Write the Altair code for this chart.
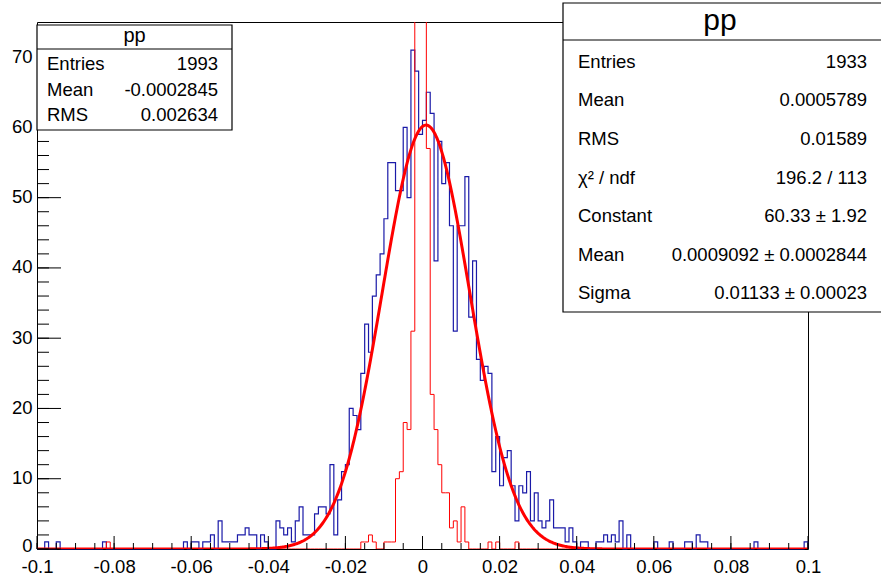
import altair as alt
import pandas as pd
import numpy as np

# ---------------- data ----------------
X_MIN, X_MAX, N_BINS = -0.1, 0.1, 200
Y_MAX = 75.0

blue_counts = [
    0, 0, 1, 0, 0, 1, 0, 0, 0, 0,
    0, 0, 0, 0, 0, 0, 0, 1, 0, 0,
    0, 0, 0, 0, 0, 0, 0, 0, 0, 0,
    0, 0, 0, 0, 0, 0, 0, 0, 1, 0,
    1, 1, 0, 1, 1, 2, 0, 4, 1, 1,
    1, 1, 2, 2, 3, 2, 2, 0, 2, 1,
    0, 0, 4, 3, 2, 3, 1, 4, 6, 2,
    2, 2, 5, 6, 6, 5, 12, 2, 7, 11,
    12, 20, 19, 17, 25, 32, 28, 36, 39, 42,
    47, 55, 55, 51, 51, 60, 50, 71, 68, 59,
    61, 65, 62, 41, 58, 52, 55, 46, 31, 46,
    46, 53, 33, 41, 27, 24, 26, 25, 11, 16,
    9, 13, 14, 9, 4, 9, 8, 11, 4, 8,
    4, 3, 4, 7, 3, 3, 3, 1, 3, 1,
    0, 1, 1, 0, 0, 1, 1, 2, 1, 2,
    1, 4, 0, 2, 0, 0, 0, 0, 0, 0,
    1, 0, 0, 0, 1, 0, 0, 0, 1, 1,
    0, 2, 1, 1, 0, 0, 0, 0, 0, 0,
    0, 0, 0, 0, 0, 0, 1, 0, 0, 0,
    0, 0, 0, 0, 0, 0, 0, 0, 0, 1,
]

red_counts = [
    0, 0, 0, 0, 0, 0, 0, 0, 0, 0,
    0, 0, 0, 0, 0, 0, 0, 0, 1, 0,
    0, 0, 0, 0, 0, 0, 0, 0, 0, 0,
    0, 0, 0, 0, 0, 0, 0, 0, 0, 0,
    0, 0, 0, 0, 0, 0, 0, 0, 0, 0,
    0, 0, 0, 0, 0, 0, 0, 0, 0, 0,
    0, 0, 0, 0, 0, 0, 0, 0, 0, 0,
    0, 0, 0, 0, 0, 0, 0, 0, 0, 0,
    0, 0, 0, 0, 1, 1, 2, 1, 0, 0,
    1, 1, 1, 10, 11, 18, 17, 31, 520, 690,
    545, 57, 22, 17, 12, 8, 8, 3, 4, 1,
    6, 1, 0, 0, 0, 0, 0, 1, 0, 1,
    0, 0, 0, 0, 1, 0, 0, 0, 0, 0,
    0, 0, 0, 0, 0, 0, 0, 0, 0, 0,
    0, 0, 0, 0, 0, 0, 0, 0, 0, 0,
    0, 0, 0, 0, 0, 0, 0, 0, 0, 0,
    0, 0, 0, 0, 0, 0, 0, 0, 0, 0,
    0, 0, 0, 0, 0, 0, 0, 0, 0, 0,
    0, 0, 0, 0, 0, 0, 0, 0, 0, 0,
    0, 0, 0, 0, 0, 0, 0, 0, 0, 0,
]

# Gaussian fit parameters (from the stats box)
fit_constant = 60.33
fit_mean = 0.0009092
fit_sigma = 0.01133

x_major_ticks = [-0.1, -0.08, -0.06, -0.04, -0.02, 0.0, 0.02, 0.04, 0.06, 0.08, 0.1]
x_minor_ticks = [round(-0.1 + 0.005 * k, 4) for k in range(41)]
y_major_ticks = [0, 10, 20, 30, 40, 50, 60, 70]
y_minor_ticks = list(range(0, 75, 2))

left_title = "pp"
left_labels = ["Entries", "Mean", "RMS"]
left_values = ["1993", "-0.0002845", "0.002634"]

right_title = "pp"
right_labels = ["Entries", "Mean", "RMS", "χ² / ndf", "Constant", "Mean", "Sigma"]
right_values = ["1933", "0.0005789", "0.01589", "196.2 / 113",
                "60.33 ± 1.92", "0.0009092 ± 0.0002844", "0.01133 ± 0.00023"]

# ---------------- layout ----------------
W, H = 771, 527
PAD = {"left": 37, "top": 22, "right": 73, "bottom": 28}
FONT = "Liberation Sans"
BLUE = "#1a1aa8"
RED = "#ff0000"

bw = (X_MAX - X_MIN) / N_BINS
def step_frame(counts):
    xs = [X_MIN + i * bw for i in range(N_BINS)] + [X_MAX, X_MAX]
    ys = list(counts) + [counts[-1], 0]
    return pd.DataFrame({"x": xs, "y": ys, "o": range(len(xs))})

blue_df = step_frame(blue_counts)
red_df = step_frame(red_counts)

fx = np.linspace(X_MIN, X_MAX, 801)
fit_df = pd.DataFrame({
    "x": fx,
    "y": fit_constant * np.exp(-0.5 * ((fx - fit_mean) / fit_sigma) ** 2),
})

xscale = alt.Scale(domain=[X_MIN, X_MAX], nice=False, zero=False)
yscale = alt.Scale(domain=[0, Y_MAX], nice=False, zero=False)

x_axis = alt.Axis(
    values=x_major_ticks, ticks=False, domain=False, grid=False, title=None,
    labelExpr="toString(round(datum.value*1000)/1000)",
    labelFont=FONT, labelFontSize=18.5, labelColor="black", labelPadding=8,
    labelFlush=False, labelOverlap=False,
)
y_axis = alt.Axis(
    values=y_major_ticks, ticks=False, domain=False, grid=False, title=None,
    labelFont=FONT, labelFontSize=18.5, labelColor="black", labelPadding=5,
    labelOffset=alt.ExprRef(expr="datum.value == 0 ? -4 : -1"),
    labelFlush=False, labelOverlap=False,
)

def X(field):
    return alt.X(field, scale=xscale, axis=x_axis)

def Y(field):
    return alt.Y(field, scale=yscale, axis=y_axis)

blue = alt.Chart(blue_df).mark_line(
    interpolate="step-after", color=BLUE, strokeWidth=1.2
).encode(x=X("x:Q"), y=Y("y:Q"), order="o:Q")

red = alt.Chart(red_df).mark_line(
    interpolate="step-after", color=RED, strokeWidth=1, clip=True
).encode(x=X("x:Q"), y=Y("y:Q"), order="o:Q")

fit = alt.Chart(fit_df).mark_line(color=RED, strokeWidth=3, clip=True).encode(
    x=X("x:Q"), y=Y("y:Q"),
)

def xticks(vals, length):
    return alt.Chart(pd.DataFrame({"t": vals})).mark_rule(color="black", strokeWidth=1).encode(
        x=X("t:Q"), y=alt.value(H), y2=alt.value(H - length),
    )

def yticks(vals, length):
    return alt.Chart(pd.DataFrame({"t": vals})).mark_rule(color="black", strokeWidth=1).encode(
        y=Y("t:Q"), x=alt.value(0), x2=alt.value(length),
    )

one = alt.Data(values=[{"a": 1}])

def box(x0, x1, y0, y1):
    return alt.Chart(one).mark_rect(fill="white", stroke="black", strokeWidth=1.2).encode(
        x=alt.value(x0), x2=alt.value(x1), y=alt.value(y0), y2=alt.value(y1)
    )

def hline(x0, x1, y):
    return alt.Chart(one).mark_rule(color="black", strokeWidth=1).encode(
        x=alt.value(x0), x2=alt.value(x1), y=alt.value(y)
    )

def txt(s, x, y, size, align):
    return alt.Chart(one).mark_text(
        text=s, font=FONT, fontSize=size, align=align, baseline="middle", color="black"
    ).encode(x=alt.value(x), y=alt.value(y))

layers = [
    blue, red, fit,
    xticks(x_minor_ticks, 6), xticks(x_major_ticks, 13),
    yticks(y_minor_ticks, 12), yticks(y_major_ticks, 24),
]

# left stats box
L_X0, L_X1, L_Y0, L_Y1, L_SEP = 0, 195, 3, 108, 27
layers += [box(L_X0, L_X1, L_Y0, L_Y1), hline(L_X0, L_X1, L_SEP),
           txt(left_title, (L_X0 + L_X1) / 2, 14, 20, "center")]
for k, (lab, val) in enumerate(zip(left_labels, left_values)):
    yy = 42 + k * 25.5
    layers += [txt(lab, 10, yy, 18.5, "left"), txt(val, 181, yy, 18.5, "right")]

# right stats box
R_X0, R_X1, R_Y0, R_Y1, R_SEP = 526, 860, -19, 290, 18
layers += [box(R_X0, R_X1, R_Y0, R_Y1), hline(R_X0, R_X1, R_SEP),
           txt(right_title, 683, -1, 30, "center")]
for k, (lab, val) in enumerate(zip(right_labels, right_values)):
    yy = 39.7 + k * 38.6
    layers += [txt(lab, 541, yy, 18.5, "left"), txt(val, 830, yy, 18.5, "right")]

chart = alt.layer(*layers).properties(
    width=W, height=H,
    autosize=alt.AutoSizeParams(type="none"),
    padding=PAD,
    background="white",
).configure_view(stroke="black", strokeWidth=1)

chart.save("out.html", embed_options={"renderer": "svg", "actions": False})
